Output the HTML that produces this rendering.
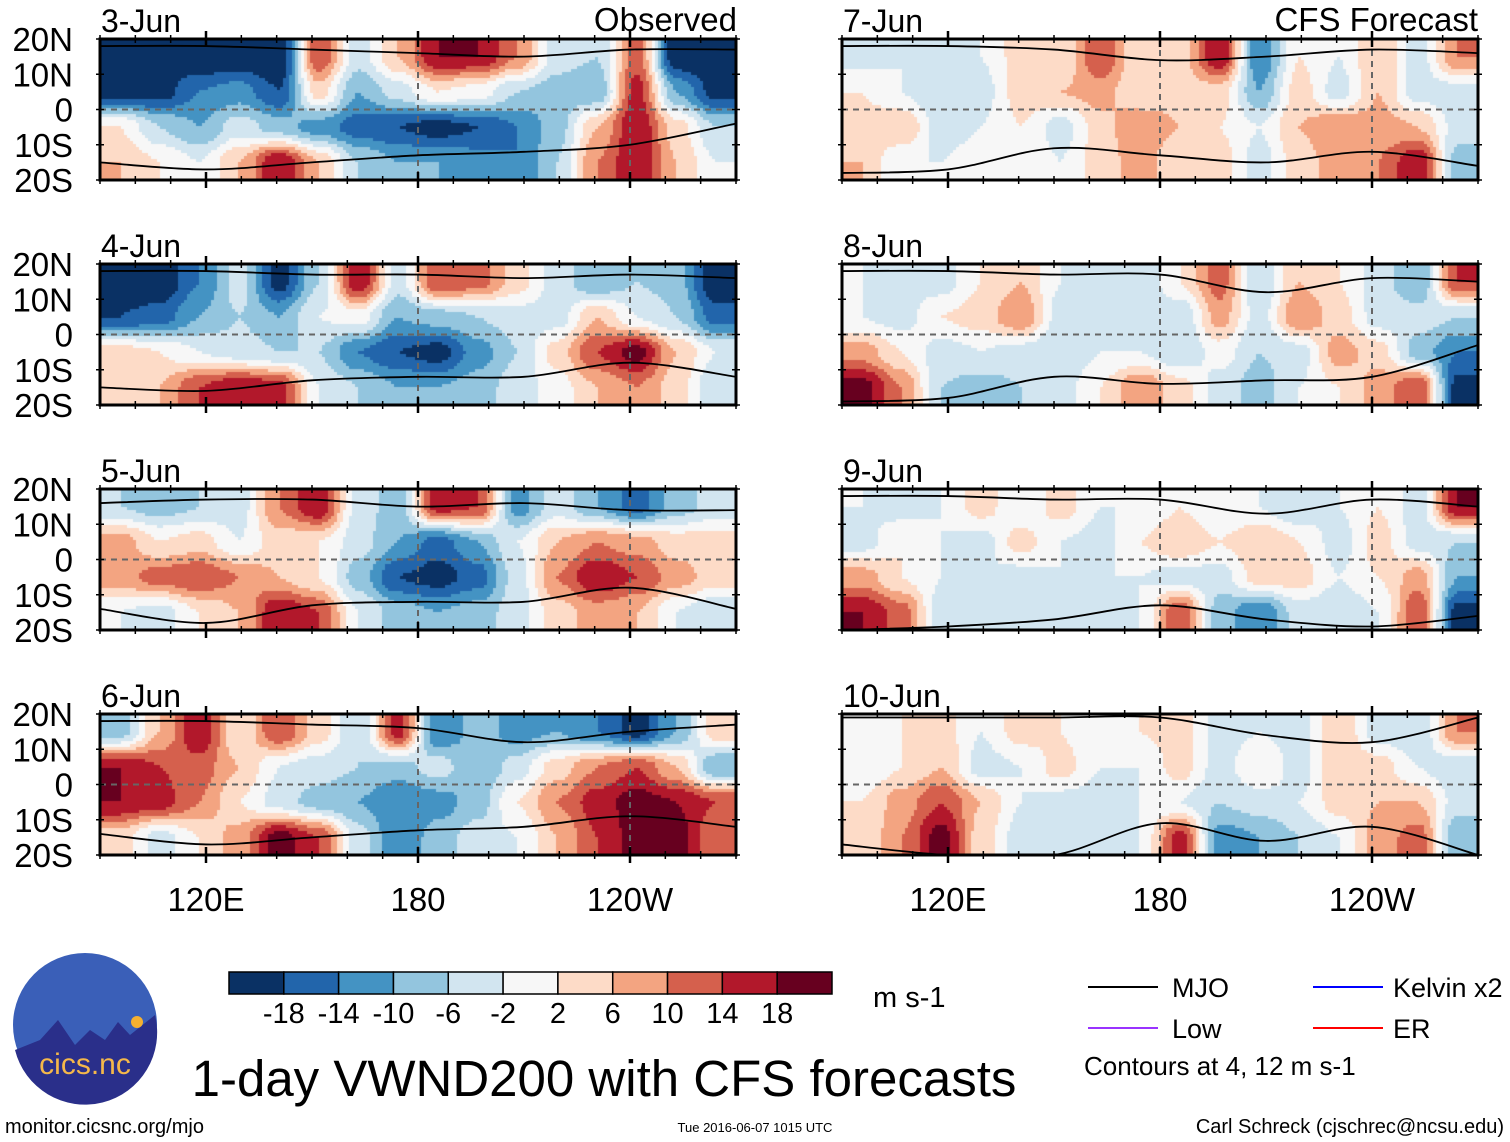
<!DOCTYPE html>
<html><head><meta charset="utf-8">
<style>
body{margin:0;background:#fff;}
#wrap{position:relative;width:1510px;height:1142px;overflow:hidden;background:#fff;font-family:"Liberation Sans",sans-serif;}
canvas,svg{position:absolute;left:0;top:0;}
</style></head>
<body>
<div id="wrap">
<canvas id="cv" width="1510" height="1142"></canvas>
<svg id="sv" width="1510" height="1142" xmlns="http://www.w3.org/2000/svg"></svg>
</div>
<script>
// ---- data ----
const panelTitles = ["3-Jun","4-Jun","5-Jun","6-Jun","7-Jun","8-Jun","9-Jun","10-Jun"];
const lonTicks = [120,180,240];
const lonTickLabels = ["120E","180","120W"];
const latTickLabels = ["20N","10N","0","10S","20S"];
const latTicks = [20,10,0,-10,-20];
const binEdges = [-18,-14,-10,-6,-2,2,6,10,14,18];
const binColors = ['#0a3164','#2265ab','#4493c3','#93c5de','#d2e5f0','#f7f7f7','#fddbc7','#f3a481','#d5604d','#b2182b','#67001f'];
const cbLabels = ["-18","-14","-10","-6","-2","2","6","10","14","18"];
// VWND grids: 4 lat rows (15N,5N,5S,15S) x 16 lon columns (90E..270)
const v3 = [[-22,-22,-22,-22,-22,14,-4,6,18,18,10,-4,-6,12,-22,-22],[-20,-20,-14,-12,-18,4,-10,-4,2,0,-6,-8,-10,16,-10,-20],[2,-6,-10,-4,-8,-12,-16,-18,-20,-18,-14,-8,6,18,4,-6],[6,2,-2,6,18,6,-6,-10,-10,-12,-14,-6,10,18,6,-2]];
const v4 = [[-22,-22,-14,-4,-20,-6,18,-4,14,12,4,-4,-10,-6,-8,-22],[-18,-16,-10,-6,-10,-2,0,-10,-8,-6,-4,-4,6,-2,-6,-16],[4,2,-2,-4,-6,-6,-14,-18,-20,-12,-6,4,14,20,6,-2],[2,6,14,18,16,-2,-6,-10,-10,-8,-4,0,6,10,4,-6]];
const v5 = [[-6,-8,-6,-4,10,18,-4,-8,16,14,-12,-4,-10,-16,-8,-4],[8,2,4,-2,4,2,-4,-10,-16,-10,-2,6,10,8,4,4],[8,12,14,10,6,2,-8,-18,-20,-16,-4,10,18,14,8,4],[-2,-4,2,6,18,14,-2,-8,-10,-8,-4,4,8,6,-2,-6]];
const v6 = [[-8,6,18,2,14,4,-6,16,-14,-8,-12,-10,-14,-20,-10,4],[18,14,12,6,-2,-4,-6,-8,-4,-10,-4,4,10,14,6,-10],[18,16,10,2,-4,-8,-10,-14,-12,-8,2,10,16,20,18,14],[4,-4,2,8,20,14,-4,-14,-8,-4,-2,6,14,20,20,10]];
const v7 = [[-4,-2,-6,-2,4,2,14,2,4,18,-14,2,-2,6,-4,10],[2,-2,-6,-4,4,6,8,2,4,4,-10,4,-4,6,-4,-4],[4,6,-4,-2,2,-4,4,10,6,2,-2,6,10,8,6,-4],[6,-2,-2,0,2,-2,4,8,2,4,-4,4,8,10,18,-8]];
const v8 = [[-2,-4,-4,2,6,-2,-4,-6,2,12,-6,6,2,-4,-10,14],[-2,-4,2,4,10,-4,-2,-4,-6,8,-4,10,4,-4,-4,-6],[8,2,-4,-2,-4,-6,-2,-2,-6,0,-6,-4,8,4,-8,-14],[20,10,-6,-8,-6,-4,2,10,4,-4,-8,-2,2,8,14,-20]];
const v9 = [[-2,-4,-2,4,-2,4,-2,-2,2,-2,-2,-6,-2,2,-4,18],[-4,2,-2,-4,4,-2,-4,2,6,2,6,2,-4,4,-4,-6],[8,2,-2,-2,-4,-2,-2,-2,-4,-4,4,4,-2,2,8,-10],[18,12,-4,-6,-4,-4,-4,-2,14,-8,-14,-4,-6,-2,14,-20]];
const v10 = [[-2,2,4,-2,4,2,-2,2,4,-4,-2,-4,6,-4,-6,10],[-2,2,6,-4,-2,4,-2,-2,4,-4,2,-4,6,4,-2,-6],[2,8,14,6,-2,-4,-4,-2,-2,-6,-4,-2,4,6,6,-4],[2,10,20,4,-4,-6,-4,-2,16,-12,-10,-6,-2,8,12,-10]];
const grids = [v3,v4,v5,v6,v7,v8,v9,v10];
// MJO contour latitudes at lons 90,120,...,270
const mjoLons = [90,120,150,180,210,240,270];
const mjoN = [[18,18,17,16,15,17,17],[18,18,17,17,16,17,16],[16,17,17,15,16,14,14],[18,18,17,16,12,15,17],[18,18,17,14,15,17,16],[18,18,17,17,12,16,15],[18,18,17,17,13,17,15],[19,19,19,19,14,12,19]];
const mjoS = [[-15,-17,-15,-13,-12,-10,-4],[-15,-16,-13,-12,-12,-8,-12],[-14,-18,-13,-12,-12,-8,-14],[-14,-17,-15,-13,-12,-9,-12],[-18,-17,-11,-13,-15,-12,-16],[-19,-18,-12,-14,-13,-12,-3],[-20,-19,-17,-13,-17,-19,-16],[-17,-20,-20,-11,-16,-12,-20]];

// ---- layout ----
const px0 = [100,100,100,100,842,842,842,842];
const py0 = [39,264,489,714,39,264,489,714];
const PW = 636, PH = 141;
const NS = 'http://www.w3.org/2000/svg';
const sv = document.getElementById('sv');
const ctx = document.getElementById('cv').getContext('2d');
function xs(i,lon){return px0[i] + (lon-90)/180*PW;}
function ys(i,lat){return py0[i] + (20-lat)/40*PH;}
function colorOf(v){let k=0;while(k<binEdges.length&&v>=binEdges[k])k++;return binColors[k];}
function mk(tag,attrs,parent){const e=document.createElementNS(NS,tag);for(const k in attrs)e.setAttribute(k,attrs[k]);(parent||sv).appendChild(e);return e;}
function sample(g,lon,lat){
  let c=(lon-90)/180*16-0.5, r=(20-lat)/40*4-0.5;
  c=Math.max(0,Math.min(15,c)); r=Math.max(0,Math.min(3,r));
  const c0=Math.min(14,Math.floor(c)), r0=Math.min(2,Math.floor(r));
  let fc=c-c0, fr=r-r0; fc=fc*fc*(3-2*fc); fr=fr*fr*(3-2*fr);
  const a=g[r0][c0]*(1-fc)+g[r0][c0+1]*fc, b=g[r0+1][c0]*(1-fc)+g[r0+1][c0+1]*fc;
  return a*(1-fr)+b*fr;
}
const step=3;
grids.forEach((g,i)=>{
  for(let x=0;x<PW;x+=step){for(let y=0;y<PH;y+=step){
    const lon=90+(x+step/2)/PW*180, lat=20-(y+step/2)/PH*40;
    ctx.fillStyle=colorOf(sample(g,lon,lat));
    ctx.fillRect(px0[i]+x,py0[i]+y,step,step);
  }}
});
function smoothPath(pts){
  let d='M'+pts[0][0]+','+pts[0][1];
  for(let k=0;k<pts.length-1;k++){
    const p0=pts[Math.max(0,k-1)],p1=pts[k],p2=pts[k+1],p3=pts[Math.min(pts.length-1,k+2)];
    d+=' C'+(p1[0]+(p2[0]-p0[0])/6)+','+(p1[1]+(p2[1]-p0[1])/6)+' '+(p2[0]-(p3[0]-p1[0])/6)+','+(p2[1]-(p3[1]-p1[1])/6)+' '+p2[0]+','+p2[1];
  }
  return d;
}
for(let i=0;i<8;i++){
  const g=mk('g',{});
  
  
  const cid='clip'+i;
  const cp=mk('clipPath',{id:cid},g); mk('rect',{x:px0[i],y:py0[i],width:PW,height:PH},cp);
  const eq=mk('line',{x1:px0[i],x2:px0[i]+PW,y1:ys(i,0),y2:ys(i,0),stroke:'#666','stroke-width':2,'stroke-dasharray':'6,5'},g);
  
  
  [180,240].forEach(l=>{
    const vl=mk('line',{x1:xs(i,l),x2:xs(i,l),y1:py0[i],y2:py0[i]+PH,stroke:'#666','stroke-width':2,'stroke-dasharray':'6,5'},g);
    
    
  });
  [mjoN[i],mjoS[i]].forEach(arr=>{
    const pts=mjoLons.map((l,k)=>[xs(i,l),ys(i,arr[k])]);
    const p=mk('path',{d:smoothPath(pts),fill:'none',stroke:'#000','stroke-width':1.8,'clip-path':'url(#'+cid+')'},g);
    
    
  });
  const fr=mk('rect',{x:px0[i],y:py0[i],width:PW,height:PH,fill:'none',stroke:'#000','stroke-width':3},g);
  
  
  for(let l=90;l<=270;l+=10){
    const major=(l%60===0);const x=xs(i,l);const len=major?8:4;
    mk('line',{x1:x,x2:x,y1:py0[i]-len,y2:py0[i]+len,stroke:'#000','stroke-width':major?2.5:1.5},g);
    mk('line',{x1:x,x2:x,y1:py0[i]+PH-len,y2:py0[i]+PH+len,stroke:'#000','stroke-width':major?2.5:1.5},g);
  }
  for(let la=-20;la<=20;la+=10){
    mk('line',{x1:px0[i]-4,x2:px0[i]+4,y1:ys(i,la),y2:ys(i,la),stroke:'#000','stroke-width':1.5},g);
    mk('line',{x1:px0[i]+PW-4,x2:px0[i]+PW+4,y1:ys(i,la),y2:ys(i,la),stroke:'#000','stroke-width':1.5},g);
  }
  const t=mk('text',{x:px0[i]+1,y:py0[i]-7,'font-size':32},g); t.textContent=panelTitles[i];
  
  
  if(i<4){
    latTicks.forEach((la,k)=>{
      const tl=mk('text',{x:px0[i]-27,y:ys(i,la)+12,'font-size':33,'text-anchor':'end'},g); tl.textContent=latTickLabels[k];
      
      
    });
  }
  if(i===3||i===7){
    lonTicks.forEach((l,k)=>{
      const tl=mk('text',{x:xs(i,l),y:911,'font-size':33,'text-anchor':'middle'},g); tl.textContent=lonTickLabels[k];
      
      
    });
  }
}
const o1=mk('text',{x:737,y:31,'font-size':33,'text-anchor':'end'}); o1.textContent='Observed';


const o2=mk('text',{x:1478,y:31,'font-size':33,'text-anchor':'end'}); o2.textContent='CFS Forecast';


const cb=mk('g',{});


const cbx=229,cbw=603/11;
binColors.forEach((c,k)=>{
  const r=mk('rect',{x:cbx+k*cbw,y:972,width:cbw,height:22,fill:c,stroke:'#000','stroke-width':1.5},cb);
  
  
});
cbLabels.forEach((s,k)=>{
  const t=mk('text',{x:cbx+(k+1)*cbw,y:1023,'font-size':29,'text-anchor':'middle'},cb); t.textContent=s;
  
  
});
const un=mk('text',{x:873,y:1007,'font-size':29}); un.textContent='m s-1';


const lg=mk('g',{});


[['MJO','#000',1088,1172,987],['Kelvin x2','#0000ff',1313,1393,987],['Low','#9933ff',1088,1172,1028],['ER','#ff0000',1313,1393,1028]].forEach(e=>{
  mk('line',{x1:e[2],x2:e[2]+70,y1:e[4],y2:e[4],stroke:e[1],'stroke-width':2},lg);
  const t=mk('text',{x:e[3],y:e[4]+10,'font-size':27},lg); t.textContent=e[0];
  
  
});
const ct=mk('text',{x:1084,y:1075,'font-size':26}); ct.textContent='Contours at 4, 12 m s-1';


const ti=mk('text',{x:604,y:1096,'font-size':51,'text-anchor':'middle'}); ti.textContent='1-day VWND200 with CFS forecasts';


const f1=mk('text',{x:5,y:1133,'font-size':20}); f1.textContent='monitor.cicsnc.org/mjo';


const f2=mk('text',{x:755,y:1132,'font-size':13,'text-anchor':'middle'}); f2.textContent='Tue 2016-06-07 1015 UTC';


const f3=mk('text',{x:1504,y:1133,'font-size':20,'text-anchor':'end'}); f3.textContent='Carl Schreck (cjschrec@ncsu.edu)';


const lo=mk('g',{});


mk('circle',{cx:85,cy:1025,r:72,fill:'#3a5fb8'},lo);
mk('path',{d:'M15,1050 L40,1040 L58,1020 L75,1045 L90,1030 L105,1040 L118,1022 L130,1035 L155,1015 A72,72 0 0 1 15,1050 Z',fill:'#2a2f8a'},lo);
mk('circle',{cx:137,cy:1022,r:6,fill:'#f5b030'},lo);
const lt=mk('text',{x:85,y:1074,'font-size':30,'text-anchor':'middle',fill:'#f5b84a'},lo); lt.textContent='cics.nc';


</script>
</body></html>
